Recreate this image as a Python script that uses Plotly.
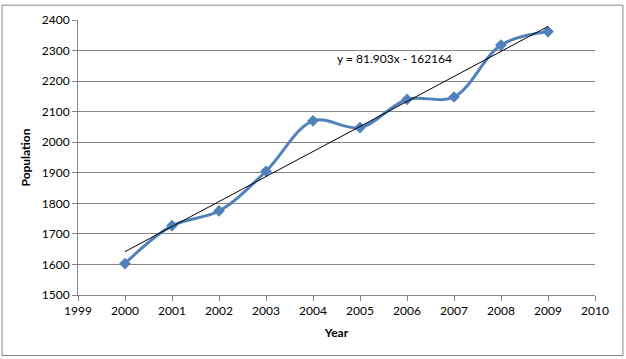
import plotly.graph_objects as go

years = [2000, 2001, 2002, 2003, 2004, 2005, 2006, 2007, 2008, 2009]
population = [1603, 1727, 1775, 1905, 2070, 2048, 2140, 2148, 2318, 2362]
trend_slope = 81.903
trend_intercept = -162164
trend_label = "y = 81.903x - 162164"

trend_x = [years[0], years[-1]]
trend_y = [trend_slope * x + trend_intercept for x in trend_x]

fig = go.Figure()
fig.add_trace(go.Scatter(
    x=years, y=population, mode="lines+markers",
    line=dict(color="#4F81BD", width=3, shape="spline", smoothing=1.0),
    marker=dict(symbol="diamond", size=9, color="#4F81BD"),
    showlegend=False, hoverinfo="x+y"))
fig.add_trace(go.Scatter(
    x=trend_x, y=trend_y, mode="lines",
    line=dict(color="#000000", width=1),
    showlegend=False))

font = "Lato, 'Open Sans', sans-serif"
fig.update_layout(
    width=626, height=359,
    margin=dict(l=78, r=31, t=17, b=64),
    paper_bgcolor="white", plot_bgcolor="white",
    font=dict(family=font, size=12, color="#000000"),
    xaxis=dict(range=[1999, 2010], dtick=1, tick0=1999, showgrid=False,
               showline=True, linecolor="#868686", linewidth=1,
               ticks="outside", ticklen=5, tickcolor="#868686",
               zeroline=False, fixedrange=True,
               title=dict(text="<b>Year</b>", font=dict(size=12), standoff=11)),
    yaxis=dict(range=[1500, 2400], dtick=100, showgrid=True,
               gridcolor="#868686", gridwidth=1,
               showline=True, linecolor="#868686", linewidth=1,
               ticks="outside", ticklen=5, tickcolor="#868686",
               zeroline=False, fixedrange=True,
               title=dict(text="<b>Population</b>", font=dict(size=12), standoff=8)),
    shapes=[dict(type="rect", xref="paper", yref="paper",
                 x0=-0.147, x1=1.054, y0=-0.22, y1=1.054,
                 line=dict(color="#868686", width=1))],
    annotations=[dict(x=2004.47, y=2273, xref="x", yref="y", text=trend_label,
                      showarrow=False, xanchor="left", yanchor="middle",
                      font=dict(size=12))],
)
fig.write_html("out.html", config={"displayModeBar": False},
               post_script="document.body.style.margin='0';document.body.style.overflow='hidden';")
